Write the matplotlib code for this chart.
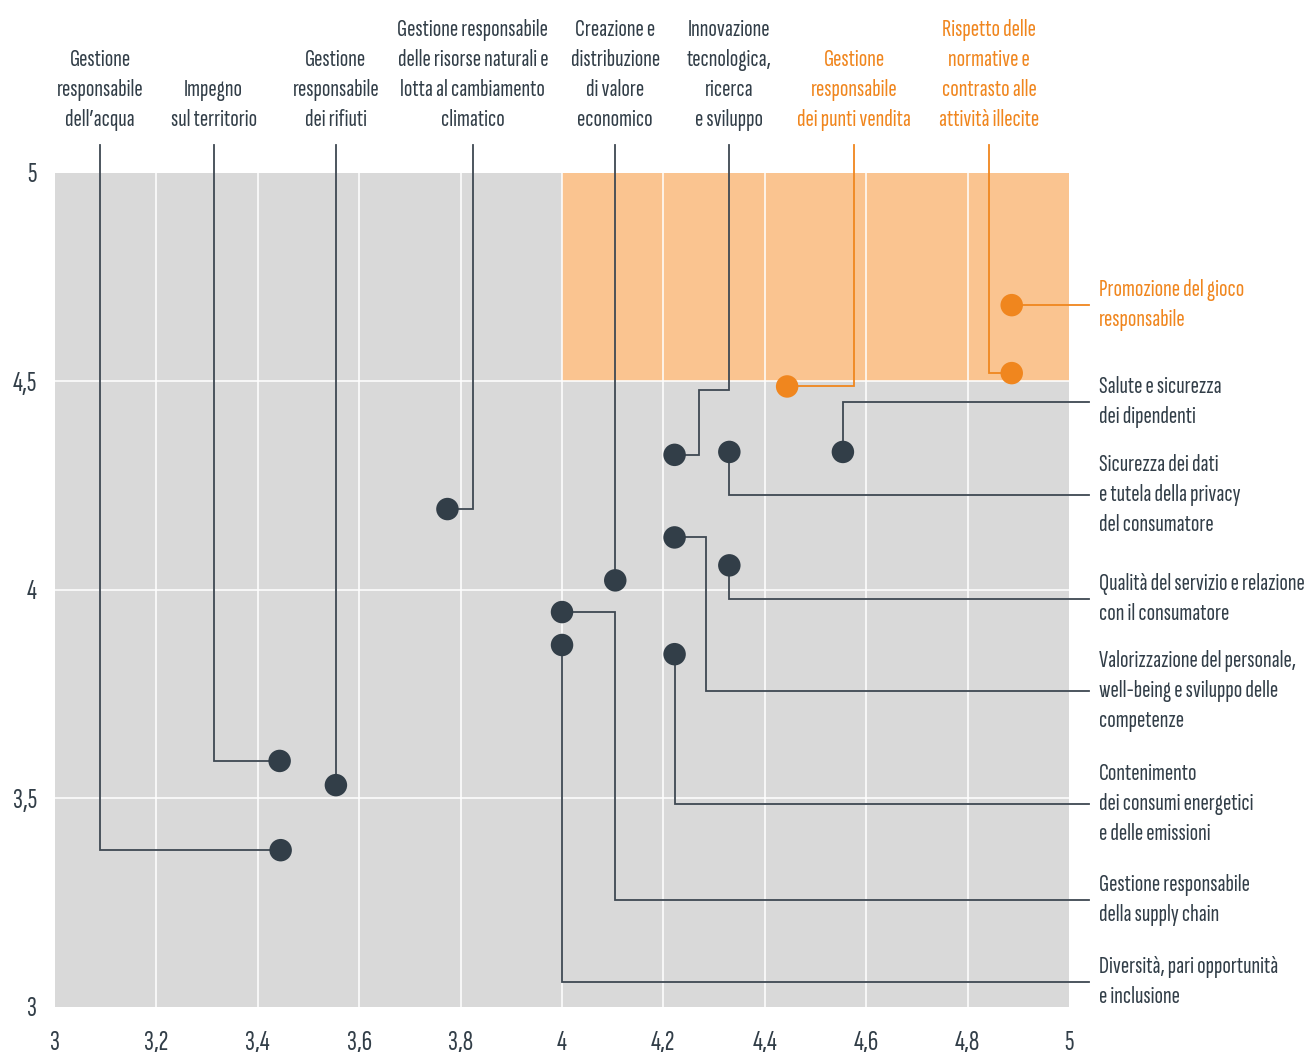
import matplotlib.pyplot as plt
from matplotlib.patches import Rectangle

# material topics: x = impatto, y = rilevanza per gli stakeholder
topics = [
    "Gestione\nresponsabile\ndell’acqua",
    "Impegno\nsul territorio",
    "Gestione\nresponsabile\ndei rifiuti",
    "Gestione responsabile\ndelle risorse naturali e\nlotta al cambiamento\nclimatico",
    "Creazione e\ndistribuzione\ndi valore\neconomico",
    "Innovazione\ntecnologica,\nricerca\ne sviluppo",
    "Gestione\nresponsabile\ndei punti vendita",
    "Rispetto delle\nnormative e\ncontrasto alle\nattività illecite",
    "Promozione del gioco\nresponsabile",
    "Salute e sicurezza\ndei dipendenti",
    "Sicurezza dei dati\ne tutela della privacy\ndel consumatore",
    "Qualità del servizio e relazione\ncon il consumatore",
    "Valorizzazione del personale,\nwell-being e sviluppo delle\ncompetenze",
    "Contenimento\ndei consumi energetici\ne delle emissioni",
    "Gestione responsabile\ndella supply chain",
    "Diversità, pari opportunità\ne inclusione",
]
x_vals = [3.445, 3.443, 3.554, 3.774, 4.105, 4.222, 4.444, 4.887,
          4.887, 4.554, 4.330, 4.330, 4.222, 4.222, 4.000, 4.000]
y_vals = [3.376, 3.590, 3.532, 4.194, 4.023, 4.324, 4.488, 4.520,
          4.683, 4.331, 4.331, 4.059, 4.126, 3.846, 3.947, 3.868]
priority = [False, False, False, False, False, False, True, True,
            True, False, False, False, False, False, False, False]

x_ticks = [3, 3.2, 3.4, 3.6, 3.8, 4, 4.2, 4.4, 4.6, 4.8, 5]
x_ticklabels = ["3", "3,2", "3,4", "3,6", "3,8", "4", "4,2", "4,4", "4,6", "4,8", "5"]
y_ticks = [3, 3.5, 4, 4.5, 5]
y_ticklabels = ["3", "3,5", "4", "4,5", "5"]

# leader line layout (label side + elbows after the dot)
TOP = 5.067
END = 5.039
leaders = [
    ("top", [(3.089, None), (3.089, TOP)]),
    ("top", [(3.313, None), (3.313, TOP)]),
    ("top", [(None, TOP)]),
    ("top", [(3.824, None), (3.824, TOP)]),
    ("top", [(None, TOP)]),
    ("top", [(4.271, None), (4.271, 4.480), (4.330, 4.480), (4.330, TOP)]),
    ("top", [(4.576, None), (4.576, TOP)]),
    ("top", [(4.842, None), (4.842, TOP)]),
    ("right", [(END, None)]),
    ("right", [(None, 4.451), (END, 4.451)]),
    ("right", [(None, 4.228), (END, 4.228)]),
    ("right", [(None, 3.978), (END, 3.978)]),
    ("right", [(4.283, None), (4.283, 3.758), (END, 3.758)]),
    ("right", [(None, 3.487), (END, 3.487)]),
    ("right", [(4.105, None), (4.105, 3.257), (END, 3.257)]),
    ("right", [(None, 3.060), (END, 3.060)]),
]

DARK = "#323e48"
LINE = "#3e4852"
ORANGE = "#f0861e"
FONT = ["Sofia Sans Extra Condensed", "DejaVu Sans"]

fig = plt.figure(figsize=(13.04, 10.52), dpi=100)
ax = fig.add_axes([0.0422, 0.0428, 0.7776, 0.7928])
ax.set_xlim(3, 5)
ax.set_ylim(3, 5)
ax.set_facecolor("#d9d9d9")
ax.add_patch(Rectangle((4, 4.5), 1, 0.5, facecolor="#fac490", edgecolor="none", zorder=0.5))

for gx in x_ticks[1:-1]:
    ax.axvline(gx, color="white", lw=1.1, zorder=1)
for gy in y_ticks[1:-1]:
    ax.axhline(gy, color="white", lw=1.1, zorder=1)

for i, t in enumerate(topics):
    side, elbows = leaders[i]
    col = ORANGE if priority[i] else LINE
    px, py = [x_vals[i]], [y_vals[i]]
    for ex, ey in elbows:
        px.append(px[-1] if ex is None else ex)
        py.append(py[-1] if ey is None else ey)
    ax.plot(px, py, color=col, lw=1.3, zorder=2, clip_on=False, solid_joinstyle="miter")
    tcol = ORANGE if priority[i] else DARK
    if side == "top":
        ax.text(px[-1], 5.100, t, ha="center", va="bottom", fontsize=18,
                color=tcol, family=FONT, linespacing=1.47, clip_on=False)
    else:
        ax.text(5.059, py[-1], t, ha="left", va="center", fontsize=18,
                color=tcol, family=FONT, linespacing=1.47, clip_on=False)

colors = [ORANGE if p else DARK for p in priority]
ax.scatter(x_vals, y_vals, s=262, c=colors, zorder=3, linewidths=0, clip_on=False)

ax.set_xticks(x_ticks)
ax.set_xticklabels(x_ticklabels, family=FONT, fontsize=21, color=DARK)
ax.set_yticks(y_ticks)
ax.set_yticklabels(y_ticklabels, family=FONT, fontsize=21, color=DARK)
ax.tick_params(length=0)
ax.tick_params(axis="x", pad=17)
ax.tick_params(axis="y", pad=13)
for s in ax.spines.values():
    s.set_visible(False)

fig.savefig("out.png", dpi=100, facecolor="white")
